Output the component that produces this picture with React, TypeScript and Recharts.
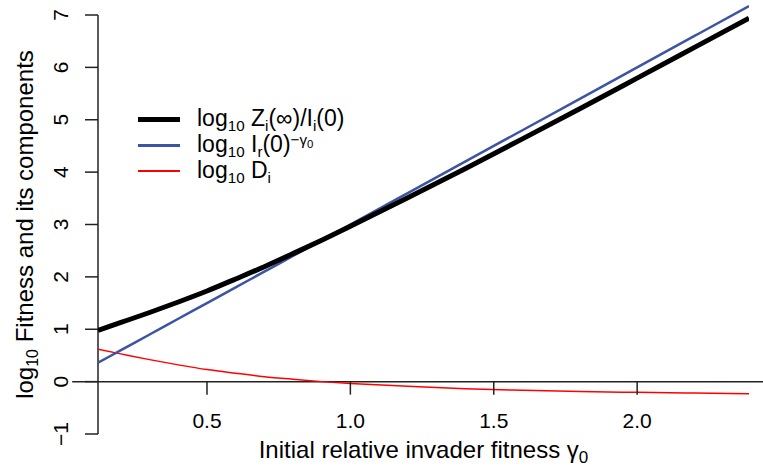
import React from 'react';
import {
  LineChart,
  Line,
  XAxis,
  YAxis,
  ReferenceLine,
  Legend,
  Label
} from 'recharts';

// initial relative invader fitness (x)
const GAMMA = [0.12, 0.2, 0.3, 0.4, 0.5, 0.6, 0.7, 0.8, 0.9, 1.0, 1.2, 1.4, 1.6, 1.8, 2.0, 2.2, 2.39];
// log10 Zi(inf)/Ii(0)
const FITNESS = [0.98, 1.13, 1.32, 1.52, 1.73, 1.96, 2.195, 2.445, 2.7, 2.965, 3.51, 4.065, 4.635, 5.21, 5.795, 6.382, 6.94];
// log10 Ir(0)^-gamma0
const IR_TERM = [0.36, 0.6, 0.9, 1.2, 1.5, 1.8, 2.1, 2.4, 2.7, 3.0, 3.6, 4.2, 4.8, 5.4, 6.0, 6.6, 7.17];
// log10 Di
const D_TERM = [0.62, 0.53, 0.42, 0.32, 0.23, 0.16, 0.095, 0.045, 0.0, -0.035, -0.09, -0.135, -0.165, -0.19, -0.205, -0.218, -0.23];

const X_TICKS = [0.5, 1.0, 1.5, 2.0];
const Y_TICKS = [-1, 0, 1, 2, 3, 4, 5, 6, 7];

const W = 763;
const H = 467;
const FONT = '"Liberation Sans", Arial, Helvetica, sans-serif';
const BLUE = '#3B54A4';
const AXIS = '#222';

// plot box: y axis drawn from -1 to 7, the plot region goes a bit higher
const TOP = 0;
const BOTTOM = 33;
const LEFT = 98;
const RIGHT = 14;
const X_MIN = 0.12;
const X_MAX = 2.39;
const Y_MIN = -1;
const Y_MAX = 7.2864;
const PLOT_H = H - TOP - BOTTOM;
const ZERO_Y = TOP + ((Y_MAX - 0) / (Y_MAX - Y_MIN)) * PLOT_H;
const Y7 = TOP + ((Y_MAX - 7) / (Y_MAX - Y_MIN)) * PLOT_H;
const Y_MID = (Y7 + TOP + PLOT_H) / 2;

const data = GAMMA.map((g, i) => ({
  g,
  fit: FITNESS[i],
  ir: IR_TERM[i],
  d: D_TERM[i]
}));

const XTick = ({ x, payload }: any) => (
  <g>
    <line x1={x} y1={ZERO_Y} x2={x} y2={ZERO_Y + 13} stroke={AXIS} strokeWidth={1.5} />
    <text x={x} y={428} textAnchor="middle" fontSize={21} fontFamily={FONT} fill="#000">
      {Number(payload.value).toFixed(1)}
    </text>
  </g>
);

const YTick = ({ y, payload }: any) => (
  <text
    x={68}
    y={y}
    transform={`rotate(-90 68 ${y})`}
    textAnchor="middle"
    fontSize={21}
    fontFamily={FONT}
    fill="#000"
  >
    {payload.value < 0 ? `\u2212${Math.abs(payload.value)}` : payload.value}
  </text>
);

const XTitle = ({ viewBox }: any) => {
  const cx = viewBox.x + viewBox.width / 2;
  return (
    <text x={cx} y={458} textAnchor="middle" fontSize={24} fontFamily={FONT} fill="#000">
      <tspan>Initial relative invader fitness γ</tspan>
      <tspan fontSize={17} dy={5}>0</tspan>
    </text>
  );
};

const YTitle = () => (
  <text
    x={33}
    y={Y_MID}
    transform={`rotate(-90 33 ${Y_MID})`}
    textAnchor="middle"
    fontSize={24}
    fontFamily={FONT}
    fill="#000"
  >
    <tspan>log</tspan>
    <tspan fontSize={16} dy={5}>10</tspan>
    <tspan dy={-5}> Fitness and its components</tspan>
  </text>
);

// compact boxes for the small scripts so they don't spill into the next row
const subStyle: React.CSSProperties = {
  display: 'inline-block',
  fontSize: '0.66em',
  verticalAlign: '-0.28em',
  lineHeight: '8px',
  height: 8
};
const supStyle: React.CSSProperties = {
  display: 'inline-block',
  fontSize: '0.66em',
  verticalAlign: '0.5em',
  lineHeight: '8px',
  height: 8
};

const LEGEND_ROWS = [
  {
    color: '#000',
    width: 5,
    label: (
      <>
        log<span style={subStyle}>10</span> Z<span style={subStyle}>i</span>(∞)/I
        <span style={subStyle}>i</span>(0)
      </>
    )
  },
  {
    color: BLUE,
    width: 3,
    label: (
      <>
        log<span style={subStyle}>10</span> I<span style={subStyle}>r</span>(0)
        <span style={supStyle}>
          −γ<span style={{ fontSize: '0.75em', verticalAlign: '-0.25em', lineHeight: 0 }}>0</span>
        </span>
      </>
    )
  },
  {
    color: '#FF0000',
    width: 2,
    label: (
      <>
        log<span style={subStyle}>10</span> D<span style={subStyle}>i</span>
      </>
    )
  }
];

const LegendBox = () => (
  <div style={{ fontFamily: FONT, fontSize: 23, color: '#000' }}>
    {LEGEND_ROWS.map((r, i) => (
      <div key={i} style={{ display: 'flex', alignItems: 'center', height: 26, lineHeight: '26px', whiteSpace: 'nowrap' }}>
        <div
          style={{
            width: 42,
            height: r.width,
            background: r.color,
            marginRight: 17,
            flexShrink: 0
          }}
        />
        <span style={{ lineHeight: '20px' }}>{r.label}</span>
      </div>
    ))}
  </div>
);

export default function App() {
  return (
    <div style={{ width: W, height: H, background: '#fff' }}>
      <style>{`body{margin:0;}`}</style>
      <LineChart
        width={W}
        height={H}
        data={data}
        margin={{ top: TOP, right: RIGHT, left: 0, bottom: 0 }}
      >
        <XAxis
          type="number"
          dataKey="g"
          domain={[X_MIN, X_MAX]}
          ticks={X_TICKS}
          allowDataOverflow
          height={BOTTOM}
          axisLine={false}
          tickLine={false}
          tick={<XTick />}
          interval={0}
        >
          <Label content={<XTitle />} />
        </XAxis>
        <YAxis
          type="number"
          domain={[Y_MIN, Y_MAX]}
          ticks={Y_TICKS}
          width={LEFT}
          allowDataOverflow
          tickSize={13}
          axisLine={false}
          tickLine={{ stroke: AXIS, strokeWidth: 1.5 }}
          tick={<YTick />}
          interval={0}
        >
          <Label content={<YTitle />} />
        </YAxis>
        <ReferenceLine
          segment={[{ x: X_MIN, y: -1 }, { x: X_MIN, y: 7 }]}
          stroke={AXIS}
          strokeWidth={1.5}
          ifOverflow="visible"
        />
        <ReferenceLine
          segment={[{ x: 0.03, y: 0 }, { x: 2.5, y: 0 }]}
          stroke={AXIS}
          strokeWidth={1.5}
          ifOverflow="visible"
        />
        <Legend
          layout="vertical"
          verticalAlign="middle"
          align="center"
          content={<LegendBox />}
          wrapperStyle={{ position: 'absolute', left: 138, top: 106, width: 'auto' }}
        />
        <Line dataKey="d" type="monotone" stroke="#FF0000" strokeWidth={1.5} dot={false} isAnimationActive={false} />
        <Line dataKey="ir" type="monotone" stroke={BLUE} strokeWidth={2.5} dot={false} isAnimationActive={false} />
        <Line dataKey="fit" type="monotone" stroke="#000" strokeWidth={5} dot={false} isAnimationActive={false} />
      </LineChart>
    </div>
  );
}
